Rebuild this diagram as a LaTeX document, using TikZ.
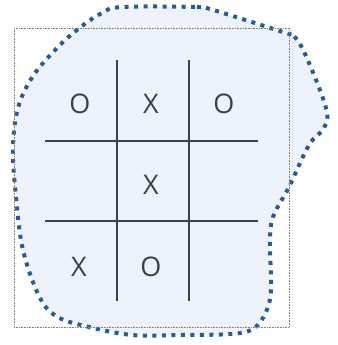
\documentclass[tikz,border=0pt]{standalone}
\usepackage{fontspec}
\setsansfont{Open Sans}
\usepackage{tikz}
\usetikzlibrary{positioning}
\usepackage{xcolor}
\definecolor{blobblue}{HTML}{2F5A8C}
\definecolor{blobfill}{HTML}{EEF3FB}
\definecolor{gridgray}{HTML}{3C4048}
\tikzset{
    cellmark/.style={
        font=\sffamily\fontsize{27}{27}\selectfont,
        text=gridgray,
        inner sep=0pt
    },
    gridline/.style={
        line width=1.6pt,
        draw=gridgray
    },
    blob/.style={
        draw=blobblue,
        fill=blobfill,
        line width=4pt,
        dash pattern=on 4pt off 5.5pt
    },
    outerbox/.style={
        draw=gray,
        line width=0.6pt,
        densely dotted
    }
}

\begin{document}
\begin{tikzpicture}[x=1pt,y=-1pt]
      \useasboundingbox (0,0) rectangle (337,345);

      % the blob behind the board
      \draw[blob] plot[smooth cycle, tension=0.6] coordinates {
        (122,7) (197,7) (210,9) (286,33) (294,36) (306,56) (326,108)
        (324,128) (309,145) (289,187) (273,217) (270,243) (271,289)
        (266,312) (253,329) (230,334) (181,335) (132,335) (85,326)
        (56,316) (39,296) (23,250) (16,197) (13,148) (18,108) (33,76)
        (59,46) (82,26) (102,13)};

      \draw[outerbox] (14,28) rectangle (289,327);

      % board
      \coordinate (v1top) at (117,60);
      \coordinate (v1bot) at (117,301);
      \coordinate (v2top) at (189,60);
      \coordinate (v2bot) at (189,301);
      \coordinate (h1left) at (45,141);
      \coordinate (h1right) at (258,141);
      \coordinate (h2left) at (45,221);
      \coordinate (h2right) at (258,221);

      \draw[gridline] (v1top) -- (v1bot);
      \draw[gridline] (v2top) -- (v2bot);
      \draw[gridline] (h1left) -- (h1right);
      \draw[gridline] (h2left) -- (h2right);

      \node[cellmark] (c11) at (80,104) {O};
      \node[cellmark] (c12) at (151,104) {X};
      \node[cellmark] (c13) at (224,104) {O};
      \node[cellmark] (c22) at (151,185) {X};
      \node[cellmark] (c31) at (79,267) {X};
      \node[cellmark] (c32) at (151,267) {O};

\end{tikzpicture}
\end{document}
